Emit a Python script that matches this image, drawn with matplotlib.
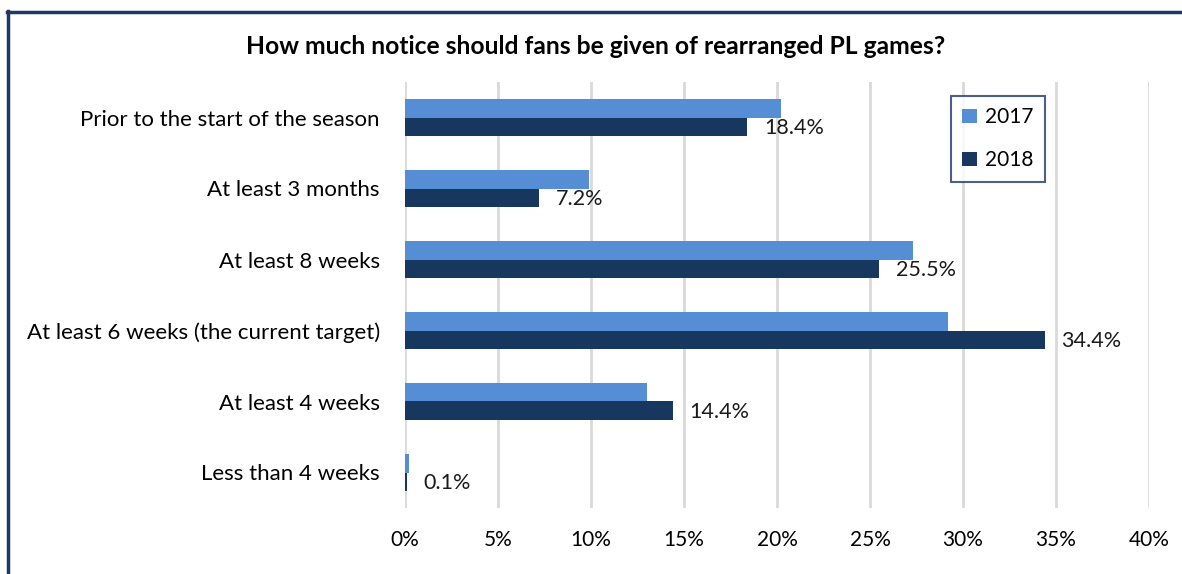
import numpy as np
import matplotlib.pyplot as plt
from matplotlib.lines import Line2D

plt.rcParams['font.family'] = ['Lato', 'DejaVu Sans']

categories = ['Prior to the start of the season', 'At least 3 months', 'At least 8 weeks',
              'At least 6 weeks (the current target)', 'At least 4 weeks', 'Less than 4 weeks']
vals_2017 = [20.2, 9.9, 27.3, 29.2, 13.0, 0.2]
vals_2018 = [18.4, 7.2, 25.5, 34.4, 14.4, 0.1]
xticks = [0, 5, 10, 15, 20, 25, 30, 35, 40]

c2017 = '#558ED5'
c2018 = '#17375E'

fig = plt.figure(figsize=(11.82, 5.74), dpi=100)
ax = fig.add_axes([405 / 1182, 1 - 508 / 574, 744 / 1182, 426 / 574])

y = np.arange(len(categories))
h = 0.267
ax.barh(y - h / 2, vals_2017, height=h, color=c2017, label='2017', zorder=3)
ax.barh(y + h / 2, vals_2018, height=h, color=c2018, label='2018', zorder=3)

for yi, v in zip(y, vals_2018):
    ax.annotate(f'{v}%', (v, yi + h / 2 + 0.02), xytext=(12, 0), textcoords='offset points',
                ha='left', va='center', fontsize=15.5, color='#1a1a1a')

ax.set_xlim(0, 40)
ax.set_ylim(len(categories) - 0.5, -0.5)
ax.set_xticks(xticks)
ax.set_xticklabels([f'{t}%' for t in xticks], fontsize=15)
ax.set_yticks(y)
ax.set_yticklabels(categories, fontsize=16)
ax.tick_params(length=0, pad=18)
ax.tick_params(axis='x', pad=16)
ax.grid(axis='x', color='#D9D9D9', linewidth=2, zorder=0)
for s in ax.spines.values():
    s.set_visible(False)

fig.text(596 / 1182, 1 - 47 / 574, 'How much notice should fans be given of rearranged PL games?',
         ha='center', va='center', fontsize=17.7, fontweight='bold')

leg = fig.legend(loc='upper left', bbox_to_anchor=(951 / 1182, 1 - 96 / 574), fontsize=15,
                 labelspacing=1.1, handlelength=0.7, handleheight=0.7, handletextpad=0.4,
                 borderpad=0.55, borderaxespad=0, frameon=True, fancybox=False)
leg.get_frame().set_edgecolor('#1F3864')
leg.get_frame().set_linewidth(1.5)

# outer frame (left and top edges only visible)
fig.add_artist(Line2D([8 / 1182, 8 / 1182], [0, 1 - 11 / 574], transform=fig.transFigure,
                      color='#1F3864', linewidth=2.5))
fig.add_artist(Line2D([7 / 1182, 1], [1 - 12 / 574, 1 - 12 / 574], transform=fig.transFigure,
                      color='#1F3864', linewidth=2.5))

fig.savefig('out.png', dpi=100)
